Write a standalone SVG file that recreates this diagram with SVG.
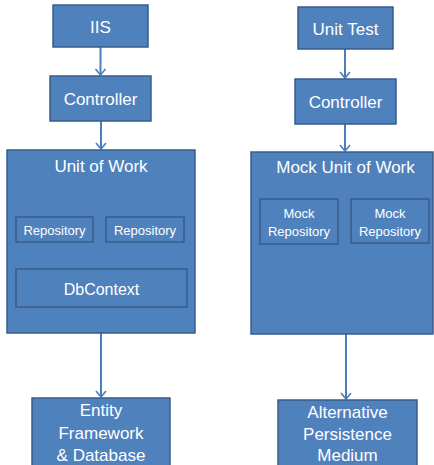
<svg xmlns="http://www.w3.org/2000/svg" width="434" height="465" viewBox="0 0 434 465">
<defs>
<style>
.box{fill:#4F81BD;stroke:#385D8A;stroke-width:1.5}
.t{fill:#FFFFFF;font-family:"Liberation Sans",Arial,sans-serif;font-size:17px;text-anchor:middle}
.s{font-size:13px}
.m{font-size:16px}
.c{stroke:#4A7EBB;stroke-width:2;fill:none}
.h{stroke:#4A7EBB;stroke-width:1.6;fill:none}
</style>
</defs>
<rect width="434" height="465" fill="#FFFFFF"/>
<g id="connectors">
<line class="c" x1="100.5" y1="47" x2="100.5" y2="75"/>
<line class="c" x1="101" y1="121" x2="101" y2="149"/>
<line class="c" x1="101" y1="333" x2="101" y2="397"/>
<line class="c" x1="345" y1="49" x2="345" y2="78"/>
<line class="c" x1="345" y1="124" x2="345" y2="151"/>
<line class="c" x1="346" y1="334" x2="346" y2="399"/>
<path class="h" d="M95.5,69 L100.5,75 L105.5,69 M96,143 L101,149 L106,143 M96,391 L101,397 L106,391 M340,72 L345,78 L350,72 M340,145 L345,151 L350,145 M341,393 L346,399 L351,393"/>
</g>
<g id="iis"><rect class="box" x="53" y="5" width="95" height="42"/><text class="t" x="100.5" y="33">IIS</text></g>
<g id="controller-left"><rect class="box" x="50" y="76" width="101" height="45"/><text class="t" x="100.5" y="105">Controller</text></g>
<g id="unit-of-work"><rect class="box" x="7" y="150" width="188" height="183"/><text class="t" x="101" y="172">Unit of Work</text></g>
<g id="repository-1"><rect class="box" x="16" y="217" width="77" height="25"/><text class="t s" x="54.5" y="234.5">Repository</text></g>
<g id="repository-2"><rect class="box" x="106" y="217" width="78" height="25"/><text class="t s" x="145" y="234.5">Repository</text></g>
<g id="dbcontext"><rect class="box" x="16" y="269" width="171" height="38"/><text class="t m" x="101.5" y="295">DbContext</text></g>
<g id="entity-framework"><rect class="box" x="32" y="398" width="138" height="70"/><text class="t" x="101" y="416">Entity</text><text class="t" x="101" y="439">Framework</text><text class="t" x="101" y="461">&amp; Database</text></g>
<g id="unit-test"><rect class="box" x="298" y="7" width="95" height="42"/><text class="t" x="345.5" y="35">Unit Test</text></g>
<g id="controller-right"><rect class="box" x="295" y="79" width="101" height="45"/><text class="t" x="345.5" y="108">Controller</text></g>
<g id="mock-unit-of-work"><rect class="box" x="251" y="152" width="182" height="182"/><text class="t" x="345.5" y="173">Mock Unit of Work</text></g>
<g id="mock-repository-1"><rect class="box" x="260" y="199" width="78" height="45"/><text class="t s" x="299" y="217.5">Mock</text><text class="t s" x="299" y="235.5">Repository</text></g>
<g id="mock-repository-2"><rect class="box" x="351" y="199" width="78" height="44"/><text class="t s" x="390" y="217.5">Mock</text><text class="t s" x="390" y="235.5">Repository</text></g>
<g id="alternative-persistence"><rect class="box" x="278" y="400" width="139" height="70"/><text class="t" x="347.5" y="418">Alternative</text><text class="t" x="347.5" y="440">Persistence</text><text class="t" x="347.5" y="461">Medium</text></g>
</svg>
